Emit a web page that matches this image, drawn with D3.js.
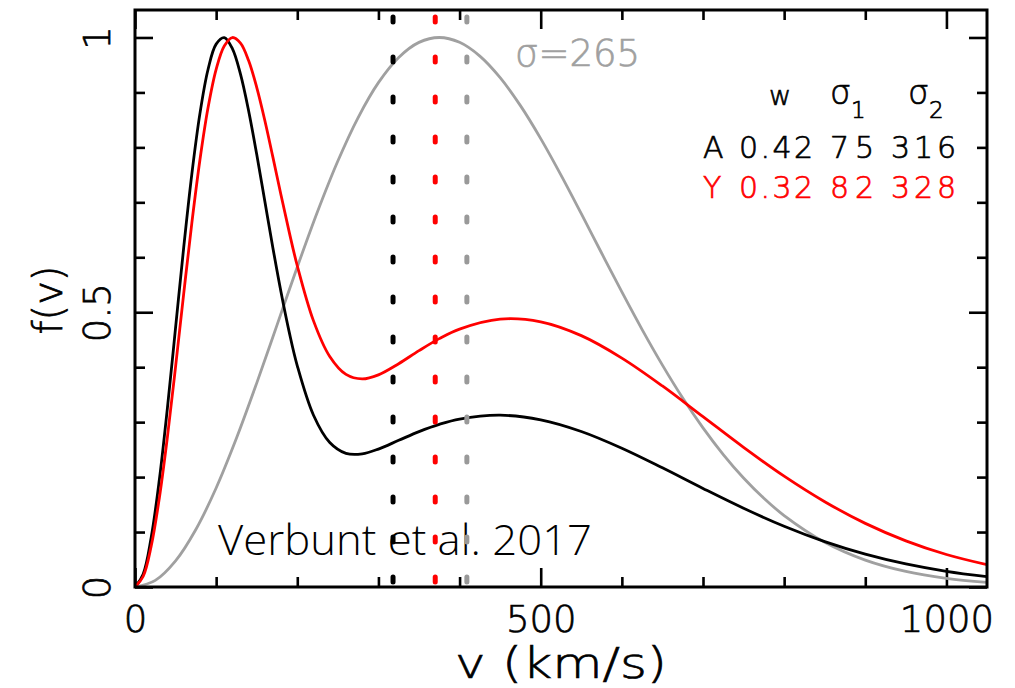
<!DOCTYPE html>
<html>
<head>
<meta charset="utf-8">
<script src="https://cdn.jsdelivr.net/npm/d3@7"></script>
<style>
  html, body { margin: 0; padding: 0; background: #fff; }
  svg { display: block; }
  .hv { font-family: "DejaVu Sans", "Liberation Sans", sans-serif; font-weight: 200; stroke-width: 0.7px; }
</style>
</head>
<body>
<svg id="chart" width="1015" height="688"></svg>
<script>
// Velocity grid (km/s) and normalised distributions for the two two-Maxwellian fits
const vFit = [0, 10, 20, 30, 40, 50, 60, 70, 80, 90, 100, 110, 120, 130, 140, 150, 160, 170, 180, 190,
  200, 220, 240, 260, 280, 300, 325, 350, 375, 400, 450, 500, 550, 600, 650, 700, 750, 800, 850, 900,
  950, 1000, 1050];
const fitA = [0, 0.0233, 0.0907, 0.1953, 0.3266, 0.4718, 0.6175, 0.7509, 0.8614, 0.9417, 0.9879, 0.9997,
  0.9797, 0.9332, 0.8667, 0.7873, 0.7020, 0.6166, 0.5364, 0.4643, 0.4026, 0.3126, 0.2630, 0.2433, 0.2423,
  0.2510, 0.2669, 0.2828, 0.2960, 0.3056, 0.3126, 0.3042, 0.2830, 0.2525, 0.2168, 0.1793, 0.1432, 0.1105,
  0.0825, 0.0597, 0.0419, 0.0285, 0.0188];
const fitY = [0, 0.0191, 0.0746, 0.1619, 0.2737, 0.4009, 0.5335, 0.6618, 0.7770, 0.8720, 0.9420, 0.9846,
  0.9999, 0.9898, 0.9580, 0.9092, 0.8490, 0.7818, 0.7129, 0.6462, 0.5846, 0.4843, 0.4195, 0.3869, 0.3787,
  0.3861, 0.4064, 0.4301, 0.4520, 0.4693, 0.4874, 0.4825, 0.4574, 0.4166, 0.3658, 0.3100, 0.2541, 0.2017,
  0.1552, 0.1158, 0.0840, 0.0591, 0.0405];

// Single Maxwellian, sigma = 265 km/s
const vSingle = [0, 25, 50, 75, 100, 125, 150, 175, 200, 225, 250, 275, 300, 325, 350, 375, 400, 425, 450,
  475, 500, 525, 550, 575, 600, 625, 650, 675, 700, 725, 750, 775, 800, 850, 900, 950, 1000, 1050];
const fitSingle = [0, 0.0120, 0.0475, 0.1046, 0.1802, 0.2706, 0.3710, 0.4766, 0.5823, 0.6833, 0.7752,
  0.8543, 0.9178, 0.9637, 0.9911, 1.0000, 0.9912, 0.9661, 0.9269, 0.8760, 0.8160, 0.7496, 0.6794, 0.6078,
  0.5369, 0.4684, 0.4038, 0.3439, 0.2896, 0.2411, 0.1984, 0.1615, 0.1300, 0.0815, 0.0490, 0.0283, 0.0157,
  0.0083];

// Dotted reference velocities (km/s): A fit, Y fit, single Maxwellian
const markerV = [318, 370, 409];
const markerColor = ["#000000", "#ff0000", "#999999"];

// Fit parameter table
const fitNames = ["A", "Y"];
const fitW = ["0.42", "0.32"];
const fitS1 = ["75", "82"];
const fitS2 = ["316", "328"];
const fitColor = ["#000000", "#ff0000"];

// Tick values
const xMajor = [0, 500, 1000];
const xMinor = [100, 200, 300, 400, 600, 700, 800, 900];
const yMajor = [0, 0.5, 1];
const yMinor = [0.1, 0.2, 0.3, 0.4, 0.6, 0.7, 0.8, 0.9];

const svg = d3.select("#chart");
const x = d3.scaleLinear().domain([0, 1050]).range([135, 987]);
const y = d3.scaleLinear().domain([0, 1.05]).range([587, 10]);

svg.append("rect").attr("width", 1015).attr("height", 688).attr("fill", "#fff");

svg.append("clipPath").attr("id", "plotclip")
  .append("rect").attr("x", x(0)).attr("y", y(1.05)).attr("width", x(1050) - x(0)).attr("height", y(0) - y(1.05));

// Axes with inward ticks
function styleAxis(g) {
  g.select(".domain").remove();
  g.selectAll(".tick line").attr("stroke", "#000").attr("stroke-width", 2.6);
}
svg.append("g").attr("transform", `translate(0,${y(0)})`)
  .call(d3.axisBottom(x).tickValues(xMinor).tickSizeInner(-10).tickSizeOuter(0).tickFormat(""))
  .call(styleAxis);
const xb = svg.append("g").attr("transform", `translate(0,${y(0)})`)
  .call(d3.axisBottom(x).tickValues(xMajor).tickSizeInner(-19).tickSizeOuter(0).tickPadding(0).tickFormat(d3.format("d")))
  .call(styleAxis);
xb.selectAll(".tick text").attr("class", "hv").attr("font-size", 37).attr("fill", "#000").attr("stroke", "#000")
  .attr("y", 45).attr("dy", 0).attr("font-family", null);
svg.append("g").attr("transform", `translate(0,${y(1.05)})`)
  .call(d3.axisTop(x).tickValues(xMinor).tickSizeInner(-10).tickSizeOuter(0).tickFormat(""))
  .call(styleAxis);
svg.append("g").attr("transform", `translate(0,${y(1.05)})`)
  .call(d3.axisTop(x).tickValues(xMajor).tickSizeInner(-19).tickSizeOuter(0).tickFormat(""))
  .call(styleAxis);

svg.append("g").attr("transform", `translate(${x(0)},0)`)
  .call(d3.axisLeft(y).tickValues(yMinor).tickSizeInner(-10).tickSizeOuter(0).tickFormat(""))
  .call(styleAxis);
const yl = svg.append("g").attr("transform", `translate(${x(0)},0)`)
  .call(d3.axisLeft(y).tickValues(yMajor).tickSizeInner(-18).tickSizeOuter(0).tickFormat(d3.format("")))
  .call(styleAxis);
yl.selectAll(".tick text").attr("class", "hv").attr("font-size", 37).attr("fill", "#000").attr("stroke", "#000")
  .attr("font-family", null)
  .attr("x", 0).attr("dy", 0).attr("text-anchor", "middle")
  .attr("transform", "translate(-25,0) rotate(-90)");
svg.append("g").attr("transform", `translate(${x(1050)},0)`)
  .call(d3.axisRight(y).tickValues(yMinor).tickSizeInner(-10).tickSizeOuter(0).tickFormat(""))
  .call(styleAxis);
svg.append("g").attr("transform", `translate(${x(1050)},0)`)
  .call(d3.axisRight(y).tickValues(yMajor).tickSizeInner(-18).tickSizeOuter(0).tickFormat(""))
  .call(styleAxis);

// Curves
const line = d3.line().x(d => x(d[0])).y(d => y(d[1])).curve(d3.curveCatmullRom.alpha(0.5));
const curves = [
  { v: vSingle, f: fitSingle, color: "#a0a0a0" },
  { v: vFit, f: fitA, color: "#000000" },
  { v: vFit, f: fitY, color: "#ff0000" }
];
const plot = svg.append("g").attr("clip-path", "url(#plotclip)");
curves.forEach(c => {
  plot.append("path")
    .datum(c.v.map((v, i) => [v, c.f[i]]))
    .attr("d", line)
    .attr("fill", "none")
    .attr("stroke", c.color)
    .attr("stroke-width", 2.8)
    .attr("stroke-linejoin", "round");
});

// Citation
svg.append("text")
  .attr("x", 218).attr("y", 555)
  .attr("font-family", "'Open Sans', 'Noto Sans', sans-serif")
  .attr("font-weight", 300)
  .attr("font-size", 42)
  .attr("textLength", 374).attr("lengthAdjust", "spacingAndGlyphs")
  .attr("fill", "#000")
  .text("Verbunt et al. 2017");

// Dotted vertical markers
svg.selectAll("line.marker").data(markerV).join("line")
  .attr("class", "marker")
  .attr("x1", d => x(d)).attr("x2", d => x(d))
  .attr("y1", y(1.05) + 7).attr("y2", y(0) + 4)
  .attr("stroke", (d, i) => markerColor[i])
  .attr("stroke-width", 5)
  .attr("stroke-linecap", "round")
  .attr("stroke-dasharray", "5 35");

// Frame
svg.append("rect")
  .attr("x", x(0)).attr("y", y(1.05))
  .attr("width", x(1050) - x(0)).attr("height", y(0) - y(1.05))
  .attr("fill", "none").attr("stroke", "#000").attr("stroke-width", 3);

// Axis titles
svg.append("text").attr("class", "hv")
  .attr("transform", "translate(62,300) rotate(-90)")
  .attr("text-anchor", "middle")
  .attr("font-size", 40)
  .attr("fill", "#000").attr("stroke", "#000")
  .text("f(v)");
svg.append("text").attr("class", "hv")
  .attr("x", 455).attr("y", 678)
  .attr("font-size", 42)
  .attr("textLength", 212).attr("lengthAdjust", "spacingAndGlyphs")
  .attr("fill", "#000").attr("stroke", "#000")
  .text("v (km/s)");

// Single-Maxwellian label
svg.append("text").attr("class", "hv")
  .attr("x", 515).attr("y", 66)
  .attr("font-size", 37)
  .attr("fill", "#a0a0a0").attr("stroke", "#a0a0a0")
  .text("σ=265");

// Parameter table header
const hdr = svg.append("g").attr("class", "hv").attr("fill", "#000").attr("stroke", "#000");
hdr.append("text").attr("x", 769).attr("y", 105).attr("font-size", 27).text("w");
const s1 = hdr.append("text").attr("x", 830).attr("y", 104).attr("font-size", 33);
s1.append("tspan").text("σ");
s1.append("tspan").attr("font-size", 23).attr("dy", 14).text("1");
const s2 = hdr.append("text").attr("x", 908).attr("y", 104).attr("font-size", 33);
s2.append("tspan").text("σ");
s2.append("tspan").attr("font-size", 23).attr("dy", 14).text("2");

// Parameter table rows
const rowY = [158, 198];
fitNames.forEach((name, i) => {
  const g = svg.append("g").attr("class", "hv").attr("fill", fitColor[i]).attr("stroke", fitColor[i])
    .attr("font-size", 30);
  g.append("text").attr("x", 703).attr("y", rowY[i]).text(name);
  g.append("text").attr("x", 739).attr("y", rowY[i]).attr("textLength", 74).text(fitW[i]);
  g.append("text").attr("x", 830).attr("y", rowY[i]).attr("textLength", 44).text(fitS1[i]);
  g.append("text").attr("x", 891).attr("y", rowY[i]).attr("textLength", 65).text(fitS2[i]);
});
</script>
</body>
</html>
